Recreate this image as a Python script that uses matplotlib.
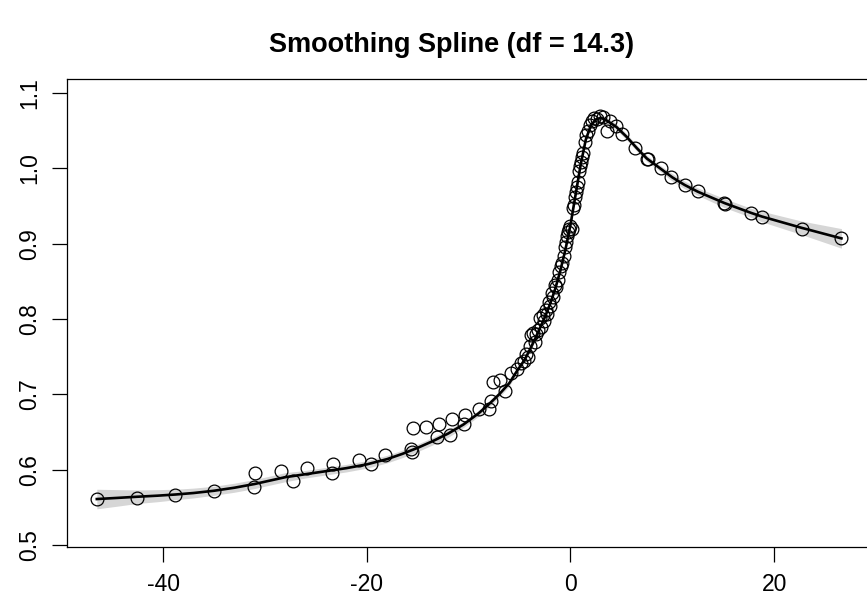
import numpy as np
import matplotlib
matplotlib.use("Agg")
import matplotlib.pyplot as plt

plt.rcParams['font.family'] = ['Liberation Sans', 'DejaVu Sans']

# ----------------------------
# Observed data
# ----------------------------
obs_x = [-46.5, -42.6, -38.8, -35.0, -31.0, -31.1, -28.4, -27.25, -25.9, -23.3,
         -23.4, -20.75, -19.6, -18.2, -15.7, -15.6, -15.5, -14.2, -12.9, -13.1,
         -11.8, -11.65, -10.4, -10.5, -9.0, -8.0, -7.8, -7.6, -6.9, -6.45,
         -5.8, -5.3,
         -4.9, -4.6, -4.4, -4.2, -4.0, -3.9, -3.7, -3.5, -3.4, -3.2,
         -3.0, -2.9, -2.7, -2.6, -2.4, -2.3, -2.1, -2.0, -1.8, -1.7,
         -1.5, -1.4, -1.2, -1.1, -0.9, -0.8, -0.6, -0.5, -0.4, -0.3,
         -0.2, -0.1, 0.0, 0.1, 0.2, 0.3, 0.4, 0.5, 0.6, 0.7,
         0.8, 0.9, 1.0, 1.1, 1.2, 1.4, 1.5, 1.7, 1.9, 2.1,
         2.3, 2.6, 2.9, 3.2, 3.56, 3.9, 4.5, 5.1, 6.3, 7.55,
         7.6, 8.9, 9.9, 11.2, 12.5, 15.1, 15.15, 17.7, 18.8, 22.7, 26.6]
obs_y = [0.561, 0.563, 0.567, 0.572, 0.595, 0.577, 0.598, 0.585, 0.602, 0.607,
         0.595, 0.613, 0.608, 0.620, 0.628, 0.624, 0.655, 0.657, 0.661, 0.643,
         0.646, 0.667, 0.672, 0.660, 0.680, 0.681, 0.691, 0.716, 0.719, 0.705,
         0.728, 0.734,
         0.742, 0.744, 0.753, 0.750, 0.764, 0.779, 0.781, 0.770, 0.780, 0.786,
         0.801, 0.789, 0.805, 0.797, 0.812, 0.807, 0.822, 0.817, 0.834, 0.829,
         0.845, 0.842, 0.852, 0.862, 0.870, 0.874, 0.884, 0.895, 0.902, 0.910,
         0.915, 0.920, 0.923, 0.919, 0.948, 0.952, 0.962, 0.968, 0.975, 0.982,
         0.996, 1.003, 1.008, 1.015, 1.021, 1.035, 1.044, 1.050, 1.058, 1.063,
         1.067, 1.066, 1.070, 1.068, 1.049, 1.063, 1.056, 1.045, 1.027, 1.012,
         1.013, 1.000, 0.989, 0.978, 0.970, 0.954, 0.953, 0.941, 0.935, 0.920, 0.907]

# ----------------------------
# Fitted smoothing spline and band half-width
# ----------------------------
fit_x = [-46.5, -44.5, -42.6, -40.5, -38.8, -37.0, -35.0, -33.0, -31.0, -29.5,
         -28.0, -26.0, -24.0, -22.0, -20.0, -18.0, -16.5, -15.0, -13.5, -12.0,
         -10.5, -9.0, -8.0, -7.0, -6.0, -5.3, -4.5,
         -4.0, -3.5, -3.0, -2.5, -2.0, -1.5, -1.0, -0.5, 0.0, 0.5,
         1.0, 1.5, 2.0, 2.5, 3.0, 3.5, 4.5, 5.5, 6.5, 7.5,
         8.8, 10.0, 11.2, 12.5, 15.1, 17.7, 18.8, 22.7, 26.6]
fit_y = [0.561, 0.5625, 0.564, 0.5655, 0.567, 0.569, 0.572, 0.576, 0.581, 0.5855,
         0.590, 0.594, 0.598, 0.602, 0.607, 0.614, 0.621, 0.629, 0.638, 0.648,
         0.660, 0.675, 0.687, 0.700, 0.715, 0.730, 0.746,
         0.759, 0.773, 0.788, 0.803, 0.820, 0.840, 0.864, 0.892, 0.925, 0.965,
         1.005, 1.038, 1.057, 1.065, 1.067, 1.064, 1.055, 1.042, 1.027, 1.013,
         1.000, 0.988, 0.978, 0.969, 0.954, 0.941, 0.936, 0.921, 0.907]
fit_hw = [0.013, 0.011, 0.009, 0.008, 0.007, 0.0065, 0.006, 0.006, 0.006, 0.006,
          0.006, 0.005, 0.005, 0.005, 0.005, 0.005, 0.005, 0.005, 0.005, 0.005,
          0.004, 0.004, 0.004, 0.004, 0.004, 0.003, 0.003,
          0.003, 0.003, 0.003, 0.003, 0.003, 0.003, 0.003, 0.003, 0.003, 0.003,
          0.003, 0.003, 0.003, 0.003, 0.004, 0.004, 0.004, 0.004, 0.004, 0.004,
          0.004, 0.005, 0.005, 0.005, 0.006, 0.006, 0.007, 0.009, 0.013]

fit_x = np.array(fit_x)
fit_y = np.array(fit_y)
fit_hw = np.array(fit_hw)

fig = plt.figure(figsize=(8.67, 6.11), dpi=100)
ax = fig.add_axes([0.0776, 0.1052, 0.927, 0.7655])

ax.fill_between(fit_x, fit_y - fit_hw, fit_y + fit_hw, color='#d6d6d6', lw=0)
ax.plot(obs_x, obs_y, 'o', mfc='none', mec='black', ms=9.2, mew=0.9)
ax.plot(fit_x, fit_y, color='black', lw=1.9)

ax.set_xlim(-49.4, 29.5)
ax.set_ylim(0.4977, 1.1186)
ax.set_xticks([-40, -20, 0, 20])
ax.set_xticklabels(['-40', '-20', '0', '20'])
ax.set_yticks([0.5, 0.6, 0.7, 0.8, 0.9, 1.0, 1.1])
ax.set_yticklabels(['0.5', '0.6', '0.7', '0.8', '0.9', '1.0', '1.1'],
                   rotation=90, va='center')
ax.tick_params(direction='out', length=11, width=0.9, labelsize=16.5, pad=8)
for s in ax.spines.values():
    s.set_linewidth(0.9)

fig.text(452 / 867, 1 - 45 / 611, 'Smoothing Spline (df = 14.3)',
         fontsize=19.5, fontweight='bold', ha='center', va='center')

fig.savefig('out.png', dpi=100)
